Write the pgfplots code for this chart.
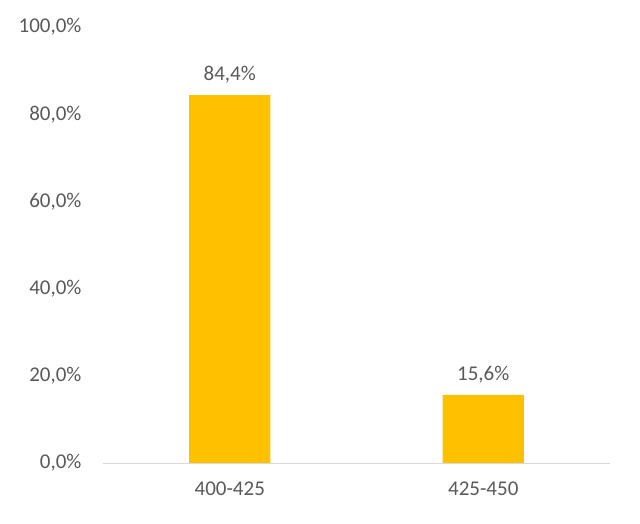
\documentclass[border=0pt]{standalone}
\usepackage{pgfplots}
\pgfplotsset{compat=1.18}
\usepackage{fontspec}
\setmainfont{Carlito}
\definecolor{txtgray}{HTML}{595959}
\definecolor{bargold}{HTML}{FFC000}
\definecolor{linegray}{HTML}{D9D9D9}
\begin{document}
\begin{tikzpicture}
\path[use as bounding box] (0,0) rectangle (640bp,524bp);
\begin{axis}[
  at={(103bp,61bp)}, anchor=south west,
  scale only axis, width=507bp, height=436bp,
  xmin=-0.5, xmax=1.5, ymin=0, ymax=100,
  ytick={0,20,...,100},
  xtick=data, xticklabels={400-425,425-450},
  axis x line*=bottom, axis y line*=left,
  x axis line style={linegray, line width=1pt, -},
  y axis line style={draw=none},
  major tick length=0pt, tick style={draw=none},
  /pgf/number format/assume math mode=true,
  ticklabel style={text=txtgray, font=\fontsize{21bp}{25bp}\selectfont},
  yticklabel={\pgfmathprintnumber[fixed,fixed zerofill,precision=1,use comma]{\tick}\%},
  yticklabel style={anchor=east, xshift=-18bp},
  xticklabel style={anchor=north, yshift=-15bp},
  nodes near coords={\pgfmathprintnumber[fixed,fixed zerofill,precision=1,use comma]{\pgfplotspointmeta}\%},
  nodes near coords style={text=txtgray, anchor=south, yshift=8bp, font=\fontsize{21bp}{25bp}\selectfont},
]
\addplot[ybar, bar width=0.32, fill=bargold, draw=none] coordinates {(0,84.4) (1,15.6)};
\end{axis}
\end{tikzpicture}
\end{document}
